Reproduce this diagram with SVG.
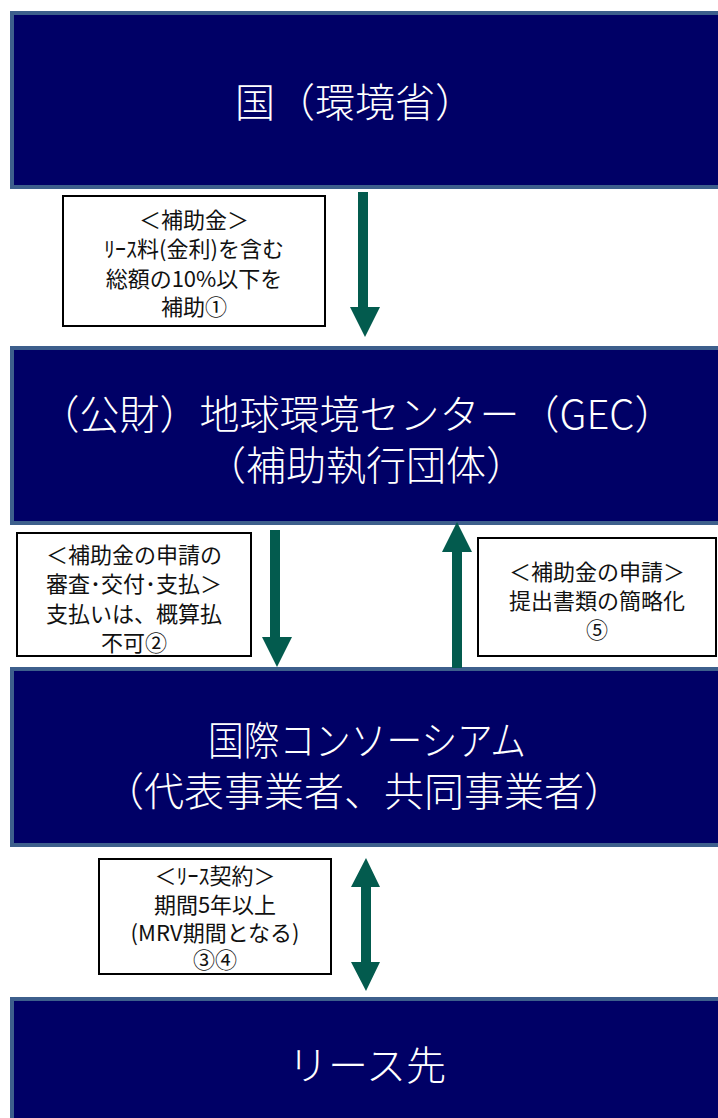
<svg xmlns="http://www.w3.org/2000/svg" width="718" height="1118" viewBox="0 0 718 1118">
<style>
.node{fill:#000066;stroke:#3D5F8C;stroke-width:4}
.nt{fill:#ffffff;font-family:"Noto Sans CJK JP","Noto Sans",sans-serif;font-size:40px;font-weight:300;text-anchor:middle;dominant-baseline:central}
.lbl{fill:#ffffff;stroke:#000000;stroke-width:2}
.lt{fill:#111111;font-family:"Noto Sans CJK JP","Noto Sans",sans-serif;font-size:22px;text-anchor:middle;dominant-baseline:central}
.arr{fill:#035B4E}
</style>
<rect width="718" height="1118" fill="#ffffff"/>
<g id="node-kuni">
<rect class="node" x="12" y="13" width="720" height="174"/>
<text class="nt" x="355" y="100">国（環境省）</text>
</g>
<g id="node-gec">
<rect class="node" x="12" y="348" width="720" height="175"/>
<text class="nt" x="357" y="412">（公財）地球環境センター（GEC）</text>
<text class="nt" x="366" y="463">（補助執行団体）</text>
</g>
<g id="node-consortium">
<rect class="node" x="12" y="669" width="720" height="176"/>
<text class="nt" x="367" y="738" textLength="318" lengthAdjust="spacingAndGlyphs">国際コンソーシアム</text>
<text class="nt" x="364" y="789">（代表事業者、共同事業者）</text>
</g>
<g id="node-lessee">
<rect class="node" x="12" y="999" width="720" height="130"/>
<text class="nt" x="367" y="1063">リース先</text>
</g>
<g id="connectors">
<polygon class="arr" points="358,192 368,192 368,307 380,307 365,337 350,307 358,307"/>
<polygon class="arr" points="270,530 280,530 280,637 292,637 277,667 262,637 270,637"/>
<polygon class="arr" points="452,668 462,668 462,552 472,552 457,522 442,552 452,552"/>
<polygon class="arr" points="366,858 380,887 371,887 371,962 380,962 366,991 351,962 361,962 361,887 351,887"/>
</g>
<g id="label-1">
<rect class="lbl" x="63" y="196" width="262" height="130"/>
<text class="lt" x="194" y="218">＜補助金＞</text>
<text class="lt" x="194" y="247">ﾘｰｽ料(金利)を含む</text>
<text class="lt" x="194" y="277">総額の10%以下を</text>
<text class="lt" x="194" y="305">補助①</text>
</g>
<g id="label-2">
<rect class="lbl" x="17" y="533" width="234" height="123"/>
<text class="lt" x="134" y="553">＜補助金の申請の</text>
<text class="lt" x="134" y="582">審査･交付･支払＞</text>
<text class="lt" x="134" y="612">支払いは、概算払</text>
<text class="lt" x="134" y="641">不可②</text>
</g>
<g id="label-3">
<rect class="lbl" x="478" y="538" width="238" height="118"/>
<text class="lt" x="597" y="570">＜補助金の申請＞</text>
<text class="lt" x="597" y="599">提出書類の簡略化</text>
<text class="lt" x="597" y="628">⑤</text>
</g>
<g id="label-4">
<rect class="lbl" x="99" y="859" width="232" height="115"/>
<text class="lt" x="215" y="874">＜ﾘｰｽ契約＞</text>
<text class="lt" x="215" y="903">期間5年以上</text>
<text class="lt" x="215" y="931">(MRV期間となる)</text>
<text class="lt" x="215" y="958">③④</text>
</g>
</svg>
